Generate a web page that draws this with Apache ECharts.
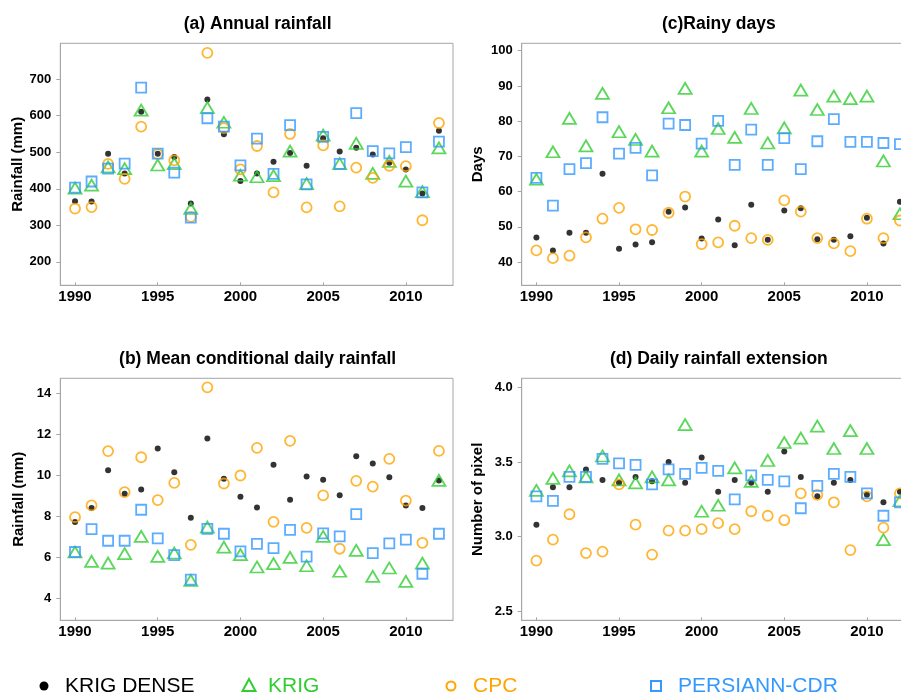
<!DOCTYPE html>
<html>
<head>
<meta charset="utf-8">
<script src="https://cdn.jsdelivr.net/npm/echarts@6/dist/echarts.min.js"></script>
<style>
  html, body { margin: 0; padding: 0; background: #fff; }
  #chart { width: 901px; height: 696px; }
</style>
</head>
<body>
<div id="chart"></div>
<script>
// Years on the horizontal axis of every panel
const years = [1990, 1991, 1992, 1993, 1994, 1995, 1996, 1997, 1998, 1999, 2000,
               2001, 2002, 2003, 2004, 2005, 2006, 2007, 2008, 2009, 2010, 2011, 2012];
const yearTicks = [1990, 1995, 2000, 2005, 2010];

const productNames = ['KRIG DENSE', 'KRIG', 'CPC', 'PERSIANN-CDR'];

// (a) Annual rainfall (mm)
const annualKrigDense = [366, 365, 496, 442, 611, 496, 487, 360, 644, 549, 421, 442, 474, 498, 463, 538, 502, 512, 494, 471, 453, 387, 559];
const annualKrig      = [402, 410, 460, 455, 615, 465, 469, 346, 622, 582, 437, 433, 436, 503, 414, 547, 469, 524, 442, 475, 421, 392, 512];
const annualCpc       = [346, 350, 468, 427, 570, 495, 478, 323, 772, 566, 453, 517, 390, 550, 349, 519, 352, 458, 430, 463, 462, 314, 580];
const annualPersiann  = [403, 420, 455, 469, 677, 496, 444, 321, 593, 570, 464, 537, 441, 574, 412, 542, 468, 607, 503, 497, 514, 390, 529];
const annualTicks = [200, 300, 400, 500, 600, 700];

// (b) Mean conditional daily rainfall (mm)
const condKrigDense = [7.72, 8.40, 10.25, 9.10, 9.31, 11.31, 10.15, 7.93, 11.79, 9.83, 8.95, 8.43, 10.51, 8.81, 9.94, 9.78, 9.03, 10.93, 10.57, 9.91, 8.53, 8.40, 9.75];
const condKrig      = [6.26, 5.80, 5.72, 6.18, 7.02, 6.05, 6.21, 4.88, 7.47, 6.50, 6.13, 5.53, 5.69, 6.00, 5.59, 7.02, 5.32, 6.34, 5.07, 5.48, 4.83, 5.72, 9.75];
const condCpc       = [7.96, 8.53, 11.18, 9.18, 10.88, 8.79, 9.63, 6.61, 14.29, 9.60, 9.99, 11.34, 7.73, 11.68, 7.44, 9.02, 6.42, 9.73, 9.45, 10.80, 8.77, 6.71, 11.19];
const condPersiann  = [6.26, 7.38, 6.81, 6.81, 8.32, 6.92, 6.11, 4.91, 7.39, 7.15, 6.29, 6.66, 6.45, 7.34, 6.03, 7.17, 7.02, 8.11, 6.21, 6.68, 6.86, 5.20, 7.15];
const condTicks = [4, 6, 8, 10, 12, 14];

// (c) Rainy days
const daysKrigDense = [47.0, 43.3, 48.3, 48.3, 65.1, 43.8, 45.0, 45.6, 54.3, 55.5, 46.7, 52.1, 44.8, 56.3, 46.3, 54.6, 55.3, 46.5, 46.3, 47.3, 52.6, 45.3, 57.1];
const daysKrig      = [63.5, 71.3, 80.8, 73.0, 87.9, 77.0, 74.8, 71.5, 83.8, 89.3, 71.5, 77.9, 75.4, 83.6, 73.8, 78.1, 88.8, 83.3, 87.1, 86.4, 87.1, 68.7, 53.7];
const daysCpc       = [43.3, 41.1, 41.8, 47.0, 52.3, 55.4, 49.3, 49.1, 54.0, 58.6, 45.1, 45.6, 50.3, 46.8, 46.3, 57.5, 54.3, 46.8, 45.3, 43.1, 52.3, 46.8, 51.8];
const daysPersiann  = [63.9, 56.0, 66.4, 68.1, 81.1, 70.8, 72.4, 64.6, 79.3, 78.9, 73.6, 80.1, 67.6, 77.6, 67.6, 75.2, 66.4, 74.3, 80.6, 74.1, 74.1, 73.8, 73.5];
const daysTicks = [40, 50, 60, 70, 80, 90, 100];

// (d) Daily rainfall extension (number of pixel)
const extKrigDense = [3.08, 3.33, 3.33, 3.45, 3.38, 3.36, 3.40, 3.37, 3.50, 3.36, 3.53, 3.30, 3.38, 3.36, 3.30, 3.57, 3.40, 3.27, 3.36, 3.38, 3.28, 3.23, 3.30];
const extKrig      = [3.31, 3.39, 3.44, 3.40, 3.54, 3.38, 3.36, 3.40, 3.38, 3.75, 3.17, 3.21, 3.46, 3.37, 3.51, 3.63, 3.66, 3.74, 3.59, 3.71, 3.59, 2.98, 3.24];
const extCpc       = [2.84, 2.98, 3.15, 2.89, 2.90, 3.35, 3.08, 2.88, 3.04, 3.04, 3.05, 3.09, 3.05, 3.17, 3.14, 3.11, 3.29, 3.28, 3.23, 2.91, 3.27, 3.06, 3.29];
const extPersiann  = [3.27, 3.24, 3.40, 3.40, 3.52, 3.49, 3.48, 3.35, 3.45, 3.42, 3.46, 3.44, 3.25, 3.41, 3.38, 3.37, 3.19, 3.34, 3.42, 3.40, 3.29, 3.14, 3.23];
const extTicks = [2.5, 3.0, 3.5, 4.0];

// Marker look of each product
const GREEN = '#32CD32';
const ORANGE = '#FFA500';
const BLUE = '#3399FF';
const markerStyles = [
  { symbol: 'circle',   symbolSize: 6,        itemStyle: { color: '#000000' } },
  { symbol: 'triangle', symbolSize: [13, 11], itemStyle: { color: 'rgba(0,0,0,0)', borderColor: GREEN,  borderWidth: 1.8 } },
  { symbol: 'circle',   symbolSize: 10,       itemStyle: { color: 'rgba(0,0,0,0)', borderColor: ORANGE, borderWidth: 1.8 } },
  { symbol: 'rect',     symbolSize: 10,       itemStyle: { color: 'rgba(0,0,0,0)', borderColor: BLUE,   borderWidth: 1.8 } }
];
const legendColors = ['#000000', GREEN, ORANGE, BLUE];

// Panel layout in px; the right column runs a little past the page edge
const PANEL_H = 242;
const panels = [
  { title: '(a) Annual rainfall', left: 60.3, right: 448, top: 43.3, yName: 'Rainfall (mm)', yMin: 136, yMax: 798,
    ticks: annualTicks, fmt: v => String(v), nameGap: 34,
    values: [annualKrigDense, annualKrig, annualCpc, annualPersiann] },
  { title: '(c)Rainy days', left: 521.7, right: -13, top: 43.3, yName: 'Days', yMin: 33.4, yMax: 102.1,
    ticks: daysTicks, fmt: v => String(v), nameGap: 36,
    values: [daysKrigDense, daysKrig, daysCpc, daysPersiann] },
  { title: '(b) Mean conditional daily rainfall', left: 60.3, right: 448, top: 378.3, yName: 'Rainfall (mm)', yMin: 2.93, yMax: 14.73,
    ticks: condTicks, fmt: v => String(v), nameGap: 34,
    values: [condKrigDense, condKrig, condCpc, condPersiann] },
  { title: '(d) Daily rainfall extension', left: 521.7, right: -13, top: 378.3, yName: 'Number of pixel', yMin: 2.44, yMax: 4.06,
    ticks: extTicks, fmt: v => v.toFixed(1), nameGap: 36,
    values: [extKrigDense, extKrig, extCpc, extPersiann] }
];

const AXIS_GRAY = '#A6A6A6';
const FONT = '"Liberation Sans", Arial, sans-serif';

const grid = [], xAxis = [], yAxis = [], series = [], title = [];
panels.forEach((p, k) => {
  const panelW = 901 - p.left - p.right;
  grid.push({ left: p.left, right: p.right, top: p.top, height: PANEL_H,
              outerBoundsMode: 'none', containLabel: false,
              show: true, borderColor: AXIS_GRAY, borderWidth: 1, backgroundColor: 'transparent' });
  title.push({ text: p.title, left: p.left + panelW / 2 - 4, top: p.top - 33, textAlign: 'center',
               textStyle: { fontFamily: FONT, fontSize: 17.5, fontWeight: 'bold', color: '#000' } });
  xAxis.push({
    type: 'value', gridIndex: k, min: 1989.11, max: 2012.85,
    axisLine: { show: true, lineStyle: { color: AXIS_GRAY, width: 1 } },
    axisTick: { show: true, inside: true, length: 3, lineStyle: { color: AXIS_GRAY }, customValues: yearTicks },
    axisLabel: { customValues: yearTicks, margin: 4, fontFamily: FONT, fontSize: 15, fontWeight: 'bold', color: '#000',
                 formatter: v => String(v) },
    splitLine: { show: false }
  });
  yAxis.push({
    type: 'value', gridIndex: k, min: p.yMin, max: p.yMax,
    name: p.yName, nameLocation: 'middle', nameGap: p.nameGap, nameRotate: 90,
    nameTextStyle: { fontFamily: FONT, fontSize: 15, fontWeight: 'bold', color: '#000' },
    axisLine: { show: true, lineStyle: { color: AXIS_GRAY, width: 1 } },
    axisTick: { show: true, inside: false, length: 4, lineStyle: { color: AXIS_GRAY }, customValues: p.ticks },
    axisLabel: { customValues: p.ticks, margin: 9, fontFamily: FONT, fontSize: 13, fontWeight: 'bold', color: '#000',
                 formatter: p.fmt },
    splitLine: { show: false }
  });
  p.values.forEach((vals, s) => {
    series.push(Object.assign({
      type: 'scatter', name: productNames[s], xAxisIndex: k, yAxisIndex: k,
      data: years.map((yr, i) => [yr, vals[i]]),
      clip: false, animation: false
    }, markerStyles[s]));
  });
});

// Legend row along the bottom
const legendY = 686;
const legendIconX = [44, 249, 451, 656];
const legendTextX = [65, 268, 473, 678];
const legendIcons = [
  { type: 'circle', shape: { cx: legendIconX[0], cy: legendY, r: 4.5 }, style: { fill: legendColors[0] } },
  { type: 'polygon', shape: { points: [[legendIconX[1], legendY - 7], [legendIconX[1] - 6.5, legendY + 5], [legendIconX[1] + 6.5, legendY + 5]] },
    style: { fill: 'none', stroke: legendColors[1], lineWidth: 2 } },
  { type: 'circle', shape: { cx: legendIconX[2], cy: legendY, r: 4.5 }, style: { fill: 'none', stroke: legendColors[2], lineWidth: 2 } },
  { type: 'rect', shape: { x: legendIconX[3] - 5, y: legendY - 5, width: 10, height: 10 }, style: { fill: 'none', stroke: legendColors[3], lineWidth: 2 } }
];
const graphic = legendIcons.concat(productNames.map((n, i) => ({
  type: 'text', x: legendTextX[i], y: legendY,
  style: { text: n, fill: legendColors[i], font: '21px ' + FONT, textVerticalAlign: 'middle' }
})));

const chart = echarts.init(document.getElementById('chart'), null, { renderer: 'canvas' });
chart.setOption({
  animation: false,
  backgroundColor: '#ffffff',
  title, grid, xAxis, yAxis, series, graphic
});
</script>
</body>
</html>
